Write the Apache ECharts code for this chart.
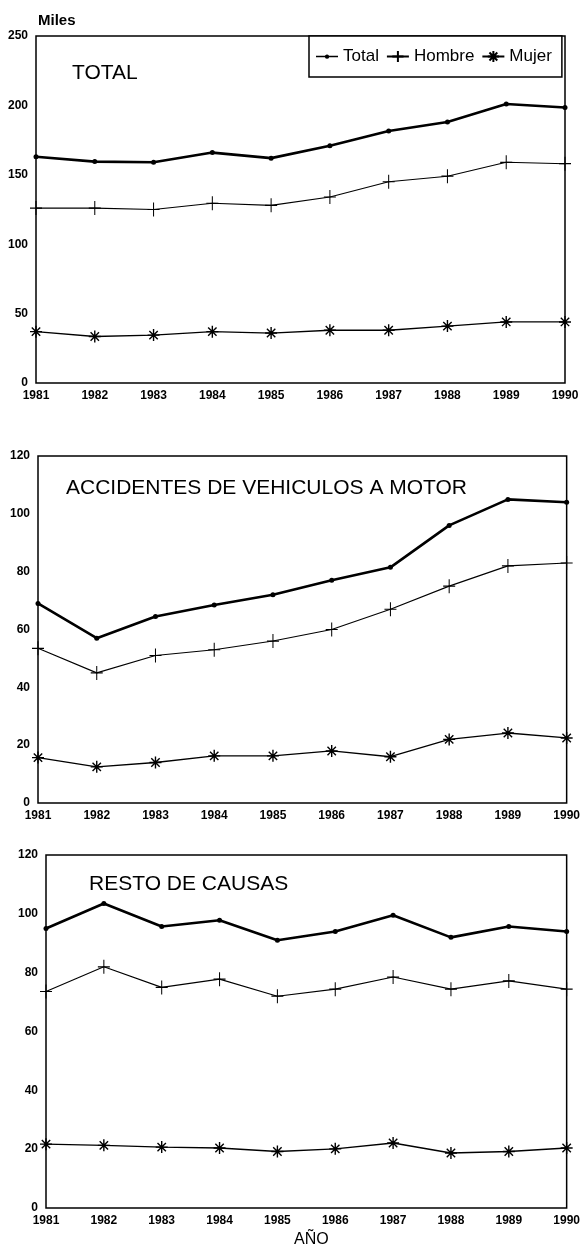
<!DOCTYPE html>
<html>
<head>
<meta charset="utf-8">
<script src="https://cdn.jsdelivr.net/npm/echarts@6/dist/echarts.min.js"></script>
<style>
  html, body { margin: 0; padding: 0; background: #fff; }
  #main { width: 583px; height: 1255px; }
</style>
</head>
<body>
<div id="main"></div>
<script>
// años y valores (miles)
const years = ["1981", "1982", "1983", "1984", "1985", "1986", "1987", "1988", "1989", "1990"];

const totalTotal = [163, 159.5, 159, 166, 162, 171, 181.5, 188, 201, 198.5];
const totalHombre = [126, 126, 125, 129.5, 128, 134, 145, 149, 159, 158];
const totalMujer = [37, 33.5, 34.5, 37, 36, 38, 38, 41, 44, 44];

const accTotal = [69, 57, 64.5, 68.5, 72, 77, 81.5, 96, 105, 104];
const accHombre = [53.5, 45, 51, 53, 56, 60, 67, 75, 82, 83];
const accMujer = [15.7, 12.5, 14, 16.3, 16.3, 18, 16, 22, 24.2, 22.5];

const restoTotal = [95, 103.5, 95.7, 97.8, 91, 94, 99.5, 92, 95.7, 94];
const restoHombre = [73.6, 82, 75, 77.8, 72, 74.4, 78.5, 74.4, 77.2, 74.4];
const restoMujer = [21.7, 21.3, 20.7, 20.4, 19.2, 20.1, 22.1, 18.7, 19.2, 20.4];

const panelTitles = ["TOTAL", "ACCIDENTES DE VEHICULOS A MOTOR", "RESTO DE CAUSAS"];

const plusPath = "path://M5,0L5,10M0,5L10,5";
const starPath = "path://M5,0L5,10M0,5L10,5M1.5,1.5L8.5,8.5M1.5,8.5L8.5,1.5";
// icono de leyenda para Total: raya con punto pequeño
const totalIcon = "path://M0,0M22,14M0,6.3L22,6.3L22,7.7L0,7.7Z M13.2,7A2.2,2.2,0,1,1,13.19,6.9Z";
const font = "Liberation Sans, Arial, sans-serif";

let myChart = echarts.init(document.getElementById("main"));

const grids = [
  { left: 36, top: 36, width: 529, height: 347 },
  { left: 38, top: 456, width: 529, height: 347 },
  { left: 46, top: 855, width: 521, height: 353 }
];
const yMax = [250, 120, 120];
const yStep = [50, 20, 20];
const panels = [
  [totalTotal, totalHombre, totalMujer],
  [accTotal, accHombre, accMujer],
  [restoTotal, restoHombre, restoMujer]
];

let series = [];
panels.forEach((p, i) => {
  series.push({
    name: "Total", type: "line", xAxisIndex: i, yAxisIndex: i, data: p[0],
    symbol: "circle", symbolSize: 5,
    lineStyle: { color: "#000", width: 2.6 },
    itemStyle: { color: "#000", borderColor: "#000", borderWidth: 0 }
  });
  series.push({
    name: "Hombre", type: "line", xAxisIndex: i, yAxisIndex: i, data: p[1],
    symbol: plusPath, symbolSize: [12, 14],
    lineStyle: { color: "#000", width: 1.1 },
    itemStyle: { color: "#000", borderColor: "#000", borderWidth: 1.1 }
  });
  series.push({
    name: "Mujer", type: "line", xAxisIndex: i, yAxisIndex: i, data: p[2],
    symbol: starPath, symbolSize: 12,
    lineStyle: { color: "#000", width: 1.3 },
    itemStyle: { color: "#000", borderColor: "#000", borderWidth: 1.4 }
  });
});

let option = {
  backgroundColor: "#fff",
  animation: false,
  textStyle: { fontFamily: font, color: "#000" },
  title: [
    { text: "Miles", left: 33, top: 8, textStyle: { fontSize: 15, fontWeight: "bold", fontFamily: font, color: "#000" } },
    { text: panelTitles[0], left: 67, top: 58, textStyle: { fontSize: 21, fontWeight: "normal", fontFamily: font, color: "#000" } },
    { text: panelTitles[1], left: 61, top: 473, textStyle: { fontSize: 21, fontWeight: "normal", fontFamily: font, color: "#000" } },
    { text: panelTitles[2], left: 84, top: 869, textStyle: { fontSize: 21, fontWeight: "normal", fontFamily: font, color: "#000" } },
    { text: "AÑO", left: 289, top: 1227, textStyle: { fontSize: 16, fontWeight: "normal", fontFamily: font, color: "#000" } }
  ],
  legend: {
    data: [{ name: "Total", icon: totalIcon }, "Hombre", "Mujer"],
    left: 309, top: 36,
    padding: [12, 10, 12, 7],
    itemGap: 7,
    itemWidth: 22,
    itemHeight: 14,
    borderColor: "#000",
    borderWidth: 1.5,
    backgroundColor: "#fff",
    textStyle: { fontSize: 17, color: "#000", fontFamily: font }
  },
  grid: grids.map(g => Object.assign({ show: true, borderColor: "#000", borderWidth: 1.5, backgroundColor: "transparent" }, g)),
  xAxis: grids.map((g, i) => ({
    type: "category", gridIndex: i, data: years, boundaryGap: false,
    axisLine: { show: false }, axisTick: { show: false },
    axisLabel: { color: "#000", fontSize: 12, fontWeight: "bold", margin: 7, fontFamily: font, interval: 0 },
    splitLine: { show: false }
  })),
  yAxis: grids.map((g, i) => ({
    type: "value", gridIndex: i, min: 0, max: yMax[i], interval: yStep[i],
    axisLine: { show: false }, axisTick: { show: false },
    axisLabel: { color: "#000", fontSize: 12, fontWeight: "bold", margin: 8, fontFamily: font },
    splitLine: { show: false }
  })),
  series: series
};

myChart.setOption(option);
</script>
</body>
</html>
